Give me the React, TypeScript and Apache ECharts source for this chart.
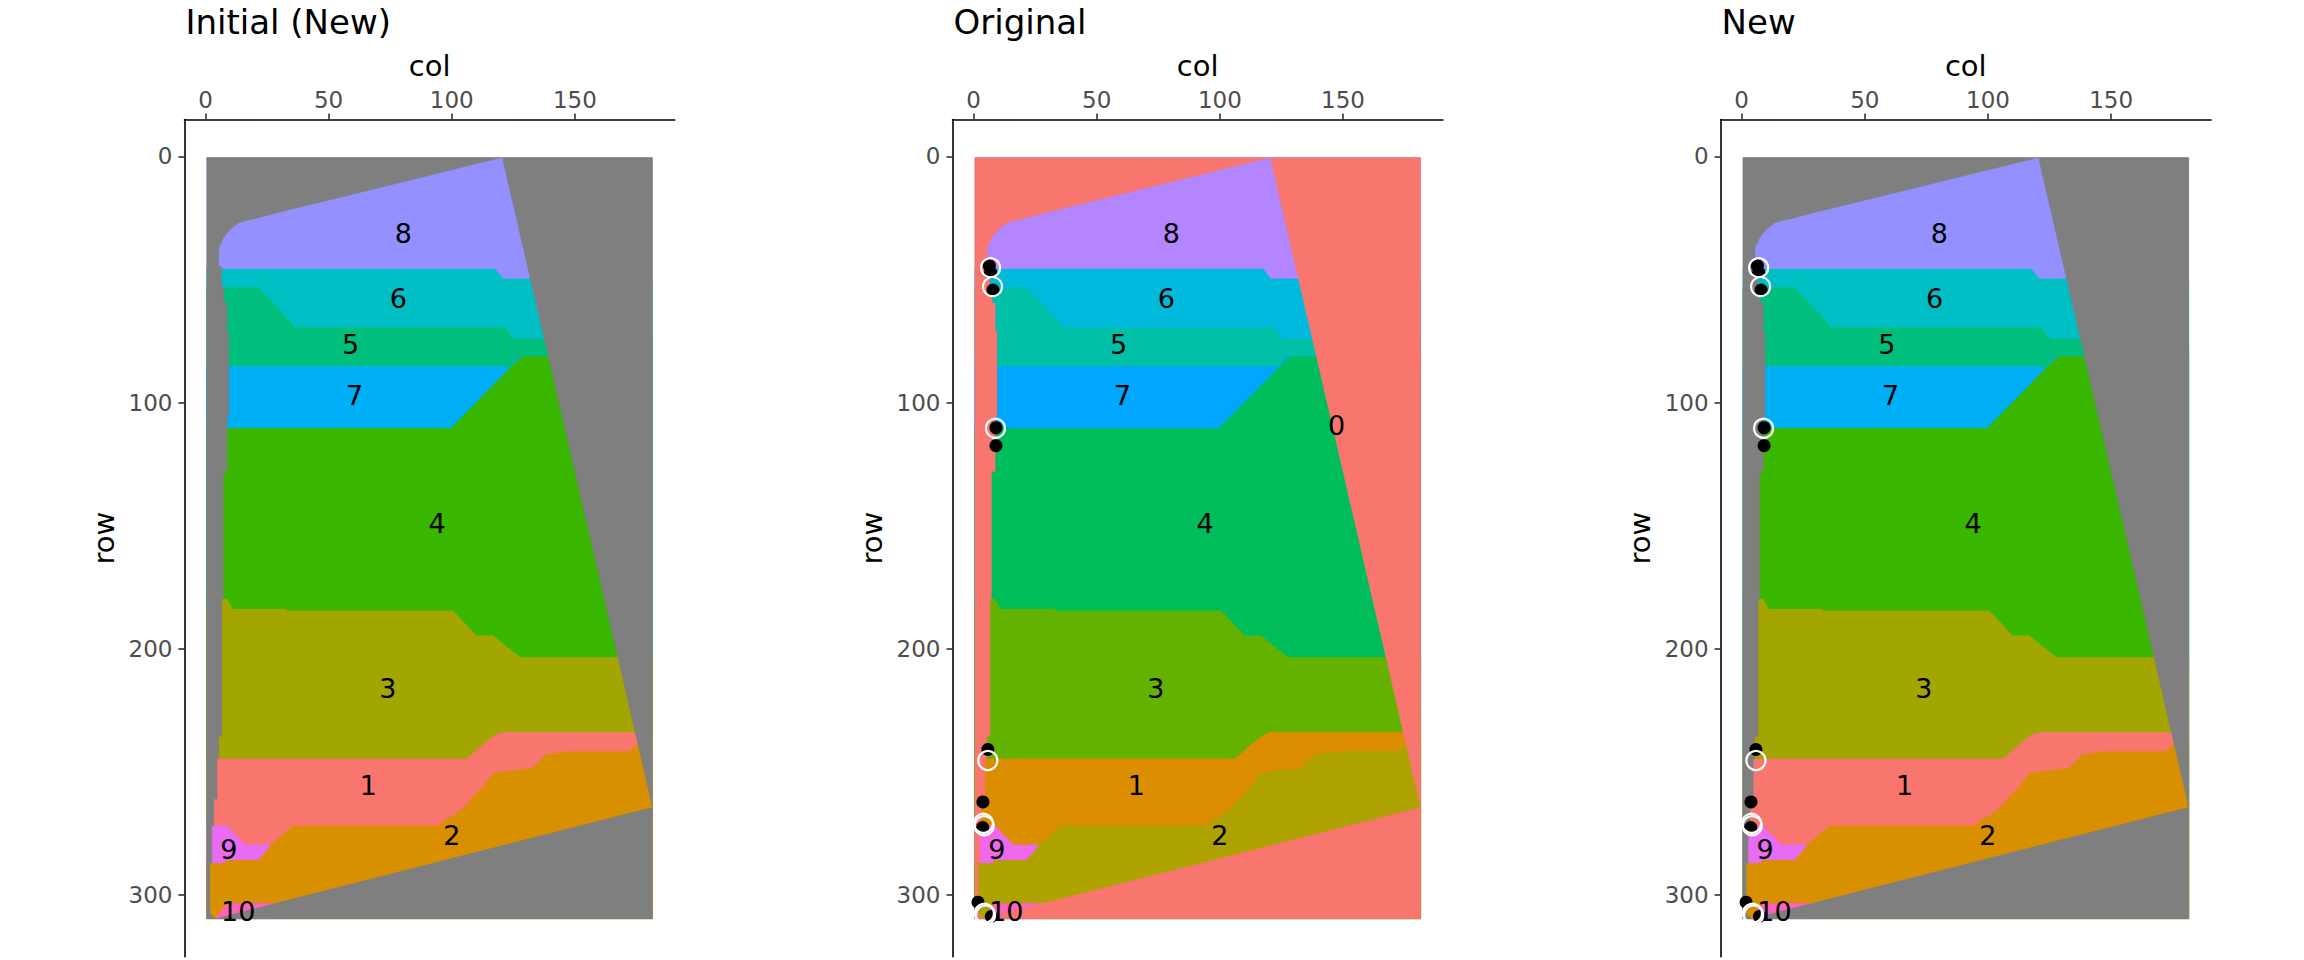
import React, { useEffect, useRef } from "react";
import * as echarts from "echarts";

// ---------- data (col, row) ----------
const PANEL_TITLES = ["Initial (New)", "Original", "New"];
const X_TICKS = [0, 50, 100, 150];
const Y_TICKS = [0, 100, 200, 300];

// region palettes
const PALETTE_NEW: Record<string, string> = {
  bg: "#7F7F7F", "1": "#F8766D", "2": "#D89000", "3": "#A3A500", "4": "#39B600", "5": "#00BF7D",
  "6": "#00BFC4", "7": "#00B0F6", "8": "#9590FF", "9": "#E76BF3", "10": "#FF62BC",
};
const PALETTE_ORIG: Record<string, string> = {
  bg: "#F8766D", "1": "#DB8E00", "2": "#AEA200", "3": "#64B200", "4": "#00BD5C", "5": "#00C1A7",
  "6": "#00BADE", "7": "#00A6FF", "8": "#B385FF", "9": "#EF67EB", "10": "#FF63B6",
};

// top boundaries of the bands (each band fills down to the image bottom; later bands paint over)
const top8 = [[0.5, 0.5], [181.5, 0.5]];
const top6 = [[0.5, 45.7], [117.7, 45.7], [120.6, 49.7], [181.5, 49.7]];
const top5 = [[0.5, 53.3], [21.6, 53.3], [36.5, 69.5], [121.3, 69.5], [125.6, 74.2], [181.5, 74.2]];
const top7 = [[0.5, 85.3], [124, 85.3], [127, 81.3], [181.5, 81.3]];
const top4 = [[0.5, 110.4], [99.6, 110.4], [127.5, 82], [128.4, 81.3], [181.5, 81.3]];
const top3 = [[0.5, 179.7], [8.5, 179.7], [10, 182], [11, 183.8], [32.9, 183.8], [33, 184.5], [100.6, 184.5],
  [109.9, 194.5], [116.7, 194.5], [127.7, 203.4], [181.5, 203.4]];
const top1 = [[0.5, 244.6], [106, 244.6], [108.7, 242.4], [114.8, 237], [118.9, 234.3], [120.5, 233.8], [181.5, 233.8]];
const top2 = [[0.5, 286.9], [8.1, 286.9], [8.1, 285.6], [21.6, 285.6], [26.6, 279.5], [35.6, 271.8], [95.2, 271.8],
  [97, 269.4], [101, 267.5], [104.6, 264.6], [112.7, 255.9], [116.8, 250.5], [123.6, 249.4], [132.7, 248.5],
  [138.4, 242.9], [147.7, 241.6], [171.9, 241.6], [175.4, 238.6], [181.5, 238.6]];
const patch9 = [[0.5, 271.8], [8.8, 271.8], [14.1, 277.5], [16, 279.5], [26.6, 279.5], [21.6, 285.6], [8.1, 285.6],
  [8.1, 286.9], [0.5, 286.9]];
const patch10 = [[4, 309.5], [8.6, 303.2], [29, 303.2], [29, 309.5]];

// tissue outline
const tissueApex = [120.5, 0.5];
const tissueRightCorner = [181.5, 264.3];
const tissueLeft = [[4, 309.5], [1.8, 307.3], [1.8, 287], [2.6, 287], [2.6, 271.8], [3.4, 271.8], [3.4, 260.9],
  [4.7, 260.9], [4.7, 244.6], [5.4, 244.6], [5.4, 235.5], [6.7, 235.5], [6.7, 179.7], [7.3, 179.7], [7.3, 128],
  [8.8, 128], [8.8, 105.6], [9.5, 105.6], [9.5, 71], [8.8, 71], [8.8, 59.6], [7.5, 59.6], [7.5, 53], [6.5, 53],
  [6.5, 44.5], [5.4, 44.5], [5.4, 38], [5.8, 36], [6.5, 35.3], [7.2, 33.2], [8.8, 31.2], [9.9, 29.8], [13.3, 27.1],
  [16.7, 26.1], [19.7, 25.4], [23.5, 24.4], [34.3, 21.7]];
const imageCorners = [[0.5, 0.5], [181.5, 0.5], [181.5, 309.5], [0.5, 309.5]];

// region labels
const labelNames = ["8", "6", "5", "7", "4", "3", "1", "2", "9", "10"];
const labelCols = [80.3, 78.3, 58.9, 60.5, 94, 74, 66.1, 100, 9.5, 13.3];
const labelRows = [31.2, 57.6, 76.2, 97.2, 149.2, 215.9, 255.3, 275.9, 281.6, 306.6];
const bgLabel = { name: "0", col: 147.4, row: 109.4 };

// spots
const dotCols = [6.4, 6.9, 7.9, 9.1, 9.1, 5.8, 3.8, 3.7, 1.8, 7.2];
const dotRows = [44.4, 47.2, 54.3, 110.2, 117.5, 240.8, 262.1, 272.5, 302.8, 308.6];
const ringCols = [6.9, 7.7, 8.9, 5.8, 4.0, 4.3, 4.4, 4.9];
const ringRows = [45.2, 52.9, 110.4, 245.3, 270.8, 271.8, 307.3, 308.0];

// ---------- build ----------
const X_MIN = -8.55, X_MAX = 190.55, Y_MIN = -14.95, Y_MAX = 324.95;
const FONT = "'DejaVu Sans', sans-serif";
const GRID_LEFT = [184.4, 952.5, 1720.6];
const GRID_TOP = 119.5, GRID_W = 490.4, GRID_H = 837.2;

const band = (top: number[][]) => [...top, [181.5, 309.5], [0.5, 309.5]];
const REGIONS: { key: string; poly: number[][] }[] = [
  { key: "8", poly: band(top8) },
  { key: "6", poly: band(top6) },
  { key: "5", poly: band(top5) },
  { key: "7", poly: band(top7) },
  { key: "4", poly: band(top4) },
  { key: "3", poly: band(top3) },
  { key: "1", poly: band(top1) },
  { key: "2", poly: band(top2) },
  { key: "9", poly: patch9 },
  { key: "10", poly: patch10 },
  { key: "bg", poly: [tissueApex, imageCorners[0], imageCorners[3], imageCorners[2], tissueRightCorner, ...tissueLeft] },
  { key: "bg", poly: [tissueApex, imageCorners[1], tissueRightCorner] },
];

function buildOption() {
  const grid: any[] = [], xAxis: any[] = [], yAxis: any[] = [], series: any[] = [], title: any[] = [];
  for (let k = 0; k < 3; k++) {
    const palette = k === 1 ? PALETTE_ORIG : PALETTE_NEW;
    grid.push({ left: GRID_LEFT[k], top: GRID_TOP, width: GRID_W, height: GRID_H, containLabel: false });
    title.push({
      text: PANEL_TITLES[k], left: GRID_LEFT[k] + 1, top: 5, padding: 0,
      textStyle: { fontSize: 34, lineHeight: 33, fontWeight: "normal", color: "#000", fontFamily: FONT },
    });
    xAxis.push({
      gridIndex: k, type: "value", position: "top", min: X_MIN, max: X_MAX,
      name: "col", nameLocation: "middle", nameGap: 39,
      nameTextStyle: { fontSize: 29, color: "#000", fontFamily: FONT },
      axisLine: { show: true, onZero: false, lineStyle: { color: "#000", width: 1.6 } },
      axisTick: { show: true, length: 6, lineStyle: { color: "#333", width: 1.6 }, customValues: X_TICKS },
      axisLabel: { show: true, customValues: X_TICKS, fontSize: 23, color: "#4D4D4D", margin: 8.5, fontFamily: FONT },
      splitLine: { show: false },
    });
    yAxis.push({
      gridIndex: k, type: "value", inverse: true, min: Y_MIN, max: Y_MAX,
      name: "row", nameLocation: "middle", nameGap: 66, nameRotate: 90,
      nameTextStyle: { fontSize: 29, color: "#000", fontFamily: FONT },
      axisLine: { show: true, onZero: false, lineStyle: { color: "#000", width: 1.6 } },
      axisTick: { show: true, length: 6, lineStyle: { color: "#333", width: 1.6 }, customValues: Y_TICKS },
      axisLabel: { show: true, customValues: Y_TICKS, fontSize: 23, color: "#4D4D4D", margin: 12, fontFamily: FONT },
      splitLine: { show: false },
    });
    series.push({
      type: "custom", xAxisIndex: k, yAxisIndex: k, silent: true,
      data: REGIONS.map((r) => r.poly[0]),
      renderItem: (params: any, api: any) => {
        const reg = REGIONS[params.dataIndex];
        return {
          type: "polygon",
          shape: { points: reg.poly.map((p) => api.coord(p)) },
          style: { fill: palette[reg.key], stroke: palette[reg.key], lineWidth: 0.3 },
        };
      },
    });
    const names = k === 1 ? [...labelNames, bgLabel.name] : labelNames;
    const cols = k === 1 ? [...labelCols, bgLabel.col] : labelCols;
    const rows = k === 1 ? [...labelRows, bgLabel.row] : labelRows;
    series.push({
      type: "custom", xAxisIndex: k, yAxisIndex: k, silent: true,
      data: names.map((_, i) => [cols[i], rows[i]]),
      renderItem: (params: any, api: any) => {
        const i = params.dataIndex;
        const p = api.coord([cols[i], rows[i]]);
        return {
          type: "text", x: p[0], y: p[1],
          style: { text: names[i], fill: "#000", fontSize: 27, fontFamily: FONT, align: "center", verticalAlign: "middle" },
        };
      },
    });
    if (k > 0) {
      series.push({
        type: "scatter", xAxisIndex: k, yAxisIndex: k, silent: true, symbol: "circle", symbolSize: 13,
        itemStyle: { color: "#000", opacity: 1 }, data: dotCols.map((c, i) => [c, dotRows[i]]),
      });
      series.push({
        type: "scatter", xAxisIndex: k, yAxisIndex: k, silent: true, symbol: "circle", symbolSize: 19,
        itemStyle: { color: "rgba(0,0,0,0)", borderColor: "#fff", borderWidth: 2.2, opacity: 1 },
        data: ringCols.map((c, i) => [c, ringRows[i]]),
      });
    }
  }
  return { animation: false, backgroundColor: "#fff", title, grid, xAxis, yAxis, series };
}

export default function App() {
  const ref = useRef<HTMLDivElement>(null);
  useEffect(() => {
    if (!ref.current) return;
    const chart = echarts.init(ref.current, undefined, { renderer: "svg" });
    chart.setOption(buildOption() as any);
    return () => chart.dispose();
  }, []);
  return <div ref={ref} style={{ position: "fixed", left: 0, top: 0, width: 2304, height: 960 }} />;
}
